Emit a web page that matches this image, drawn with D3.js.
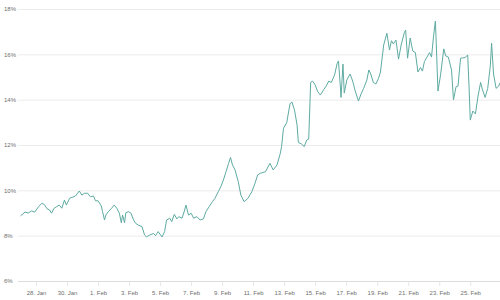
<!DOCTYPE html>
<html>
<head>
<meta charset="utf-8">
<script src="https://cdn.jsdelivr.net/npm/d3@7"></script>
<style>
  html, body { margin: 0; padding: 0; background: #ffffff; }
  svg { display: block; }
  text { font-family: "Liberation Sans", Arial, sans-serif; }
</style>
</head>
<body>
<svg id="chart" width="500" height="300"></svg>
<script>
const YEAR = "2024";
const times = [
"01-27 00","01-27 07","01-27 12","01-27 17","01-27 22",
"01-28 04","01-28 09","01-28 13","01-28 17","01-28 21",
"01-29 00","01-29 04","01-29 08","01-29 12","01-29 16","01-29 20","01-29 23",
"01-30 04","01-30 08","01-30 13","01-30 19","01-30 23",
"01-31 03","01-31 08","01-31 12","01-31 17","01-31 20",
"02-01 00","02-01 05","02-01 07","02-01 10","02-01 12","02-01 16","02-01 21",
"02-02 01","02-02 05","02-02 09","02-02 12","02-02 14","02-02 17","02-02 19","02-02 23",
"02-03 03","02-03 07","02-03 10","02-03 14","02-03 20",
"02-04 00","02-04 03","02-04 08","02-04 14","02-04 17","02-04 21",
"02-05 03","02-05 07","02-05 10","02-05 15","02-05 18","02-05 22",
"02-06 02","02-06 05","02-06 10","02-06 14","02-06 16","02-06 20",
"02-07 00","02-07 04","02-07 09","02-07 14","02-07 19","02-07 23",
"02-08 04","02-08 09","02-08 13","02-08 18","02-08 22",
"02-09 02","02-09 06","02-09 10","02-09 13","02-09 16","02-09 20",
"02-10 01","02-10 05","02-10 10","02-10 16","02-10 22",
"02-11 03","02-11 07","02-11 11","02-11 19",
"02-12 02","02-12 07","02-12 13","02-12 18","02-12 20","02-12 23",
"02-13 04","02-13 09","02-13 12","02-13 16","02-13 20","02-13 22",
"02-14 03","02-14 07","02-14 11","02-14 14","02-14 17","02-14 20",
"02-15 00","02-15 04","02-15 08","02-15 13","02-15 17","02-15 21",
"02-16 01","02-16 06","02-16 10","02-16 12","02-16 15","02-16 16","02-16 19","02-16 21",
"02-17 01","02-17 06","02-17 10","02-17 14","02-17 19","02-17 23",
"02-18 03","02-18 08","02-18 11","02-18 14","02-18 18","02-18 22",
"02-19 02","02-19 05","02-19 10","02-19 15","02-19 19","02-19 22",
"02-20 01","02-20 05","02-20 09","02-20 13","02-20 18","02-20 20","02-20 23",
"02-21 03","02-21 07","02-21 11","02-21 15","02-21 19","02-21 22",
"02-22 01","02-22 05","02-22 09","02-22 12","02-22 15","02-22 18","02-22 19","02-22 22",
"02-23 02","02-23 07","02-23 10","02-23 14","02-23 19","02-23 22",
"02-24 02","02-24 05","02-24 09","02-24 12","02-24 16","02-24 20","02-24 22",
"02-25 00","02-25 04","02-25 08","02-25 12","02-25 16","02-25 19","02-25 23",
"02-26 03","02-26 07","02-26 09","02-26 12","02-26 16","02-26 20","02-26 22"
];
const values = [
8.87,9.04,9.00,9.09,9.04,
9.28,9.43,9.37,9.19,9.13,
8.99,9.21,9.28,9.35,9.21,9.57,9.35,
9.65,9.69,9.75,9.97,9.79,
9.87,9.87,9.72,9.75,9.54,
9.54,9.31,9.06,8.69,8.91,9.06,9.21,
9.35,9.21,8.99,8.57,8.91,8.57,9.01,9.06,
8.99,8.69,8.55,8.47,8.40,
8.03,7.95,8.03,8.10,8.00,8.18,
7.94,8.18,8.69,8.77,8.62,8.94,
8.74,8.84,8.77,9.13,9.35,8.91,
8.99,8.77,8.84,8.69,8.74,9.06,
9.28,9.50,9.65,9.94,10.16,
10.46,10.82,11.19,11.45,11.12,10.90,
10.38,9.79,9.50,9.65,9.94,
10.32,10.68,10.75,10.82,
11.19,10.90,11.12,11.63,11.93,12.74,
12.99,13.81,13.90,13.54,12.88,12.11,
12.04,11.93,12.22,12.26,14.76,14.82,
14.65,14.35,14.21,14.43,14.60,14.82,
14.76,15.09,15.60,15.71,14.56,14.10,15.57,14.29,
14.87,15.13,14.82,14.38,13.94,14.25,
14.50,14.87,15.31,15.13,14.76,14.69,
14.94,15.22,16.41,16.93,16.19,16.60,
16.46,16.63,15.79,16.41,16.96,17.07,15.83,
16.72,16.15,16.08,15.22,15.42,15.26,
15.68,15.88,16.08,15.88,16.76,17.47,16.76,14.38,
15.09,16.24,15.93,15.88,15.31,13.99,
14.57,14.60,15.83,15.84,15.86,15.97,14.65,
13.10,13.50,13.37,14.16,14.76,14.43,14.10,
14.50,15.49,16.49,15.13,14.50,14.60,14.74
];
const xTickDates = ["01-28","01-30","02-01","02-03","02-05","02-07","02-09","02-11","02-13","02-15","02-17","02-19","02-21","02-23","02-25"];
const xTickLabels = ["28. Jan","30. Jan","1. Feb","3. Feb","5. Feb","7. Feb","9. Feb","11. Feb","13. Feb","15. Feb","17. Feb","19. Feb","21. Feb","23. Feb","25. Feb"];
const yTicks = [6, 8, 10, 12, 14, 16, 18];
const yTickLabels = ["6%","8%","10%","12%","14%","16%","18%"];

const parseT = d3.timeParse("%Y-%m-%d %H");
const parseD = d3.timeParse("%Y-%m-%d");
const data = times.map((t, i) => ({ t: parseT(YEAR + "-" + t), v: values[i] }));
const tickDates = xTickDates.map(d => parseD(YEAR + "-" + d));

const svg = d3.select("#chart");
const plotLeft = 20, plotRight = 500, plotTop = 9, plotBottom = 281;

const x = d3.scaleTime().domain([data[0].t, data[data.length - 1].t]).range([plotLeft + 0.5, plotRight]);
const y = d3.scaleLinear().domain([6, 18]).range([plotBottom, plotTop]);

// grid + y labels
const yAxis = d3.axisLeft(y).tickValues(yTicks).tickSize(-(plotRight - 18)).tickFormat((d, i) => yTickLabels[i]);
const gy = svg.append("g").attr("transform", "translate(18,0)").call(yAxis);
gy.select(".domain").remove();
gy.selectAll(".tick line").attr("stroke", d => d === 6 ? "#dcdcdc" : "#ececec").attr("stroke-width", 1);
gy.selectAll(".tick text").attr("x", -14).attr("text-anchor", "start").attr("fill", "#6e6e6e").style("font-size", "6px");

// x axis
const xAxis = d3.axisBottom(x).tickValues(tickDates).tickSize(5).tickPadding(5).tickFormat((d, i) => xTickLabels[i]);
const gx = svg.append("g").attr("transform", `translate(0,${plotBottom})`).call(xAxis);
gx.select(".domain").remove();
gx.selectAll(".tick line").attr("stroke", "#e6e6e6");
gx.selectAll(".tick text").attr("fill", "#6e6e6e").style("font-size", "6px");

// line
const line = d3.line().x(d => x(d.t)).y(d => y(d.v)).curve(d3.curveLinear);
svg.append("path").datum(data).attr("fill", "none").attr("stroke", "#5eaba2").attr("stroke-width", 1).attr("stroke-linejoin", "round").attr("d", line);
</script>
</body>
</html>
